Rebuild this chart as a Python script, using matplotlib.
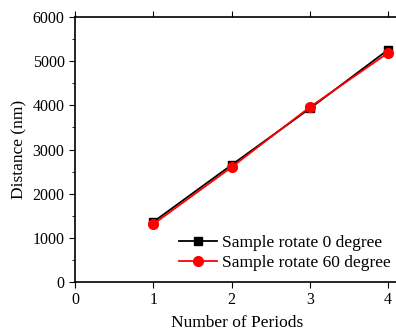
import matplotlib
matplotlib.use("Agg")
import matplotlib.pyplot as plt
from matplotlib.ticker import MultipleLocator

# Data
periods = [1, 2, 3, 4]
dist_0deg = [1360, 2650, 3930, 5260]
dist_60deg = [1310, 2600, 3960, 5190]

plt.rcParams["font.family"] = ["Liberation Serif", "DejaVu Serif"]
plt.rcParams["font.size"] = 11.5

fig = plt.figure(figsize=(3.96, 3.32), dpi=100)
ax = fig.add_axes([75 / 396, 1 - 282 / 332, 1 - 75 / 396 + 0.01, 265 / 332])

ax.plot(periods, dist_0deg, color="black", marker="s", markersize=6, linewidth=1.3,
        label="Sample rotate 0 degree")
ax.plot(periods, dist_60deg, color="red", marker="o", markersize=7, linewidth=1.3,
        label="Sample rotate 60 degree")

ax.set_xlim(0, 4.15)
ax.set_ylim(0, 6000)
ax.xaxis.set_major_locator(MultipleLocator(1))
ax.yaxis.set_major_locator(MultipleLocator(1000))
ax.yaxis.set_minor_locator(MultipleLocator(500))
ax.tick_params(which="both", direction="out", top=True, right=False)
ax.tick_params(which="major", length=4)
ax.tick_params(which="minor", length=2.5)
for s in ax.spines.values():
    s.set_linewidth(1.2)
ax.spines["right"].set_visible(False)

ax.set_xlabel("Number of Periods", fontsize=12.5, labelpad=5)
ax.set_ylabel("Distance (nm)", fontsize=12.5)

ax.legend(loc="lower right", frameon=False, fontsize=12.5, handlelength=2.2,
          borderaxespad=0.3, handletextpad=0.3, labelspacing=0.25,
          bbox_to_anchor=(1.01, -0.005))

fig.savefig("out.png", dpi=100)
